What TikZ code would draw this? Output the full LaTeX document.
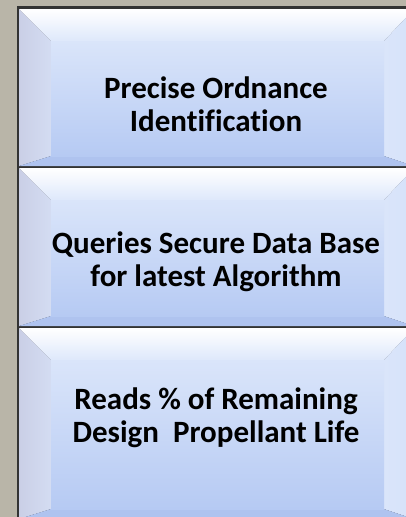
\documentclass[tikz,border=0pt]{standalone}
\usepackage{fontspec}
\setmainfont{Carlito}[Ligatures=CommonOff]
\usepackage{tikz}
\usetikzlibrary{positioning}

\definecolor{bggray}{HTML}{B9B5A8}
\definecolor{facetop}{HTML}{DAE5FA}
\definecolor{facebot}{HTML}{B6CAF3}
\definecolor{bevtop}{HTML}{DEE8FB}
\definecolor{bevleft}{HTML}{CACFE6}
\definecolor{bevright}{HTML}{D6E2FA}
\definecolor{bevbot}{HTML}{AFC3EF}

\begin{document}
\begin{tikzpicture}[
  x=1pt, y=-1pt,
  lbl/.style={font=\bfseries\fontsize{31}{33}\selectfont, align=center, text=black}
]
  \fill[bggray] (0,0) rectangle (406,517);
  \useasboundingbox (0,0) rectangle (406,517);
  % outer frame of the column
  \fill[black!80] (17,6) rectangle (406,520);
  \foreach \ya/\yb/\yt/\name/\txt in {
    9/166/104/ident/{Precise Ordnance\\Identification},
    168/326/262/query/{Queries Secure Data Base\\for latest Algorithm},
    328/519/418/reads/{Reads \% of Remaining\\Design\ \ Propellant Life}} {
    % bevel faces
    \shade[top color=white, bottom color=bevtop]
      (19,\ya) -- (414,\ya) -- (384,\ya+32) -- (51,\ya+32) -- cycle;
    \shade[left color=bevleft, right color=bevleft!40!facetop]
      (19,\ya) -- (51,\ya+32) -- (51,\yb-10) -- (19,\yb) -- cycle;
    \shade[left color=facetop, right color=bevright]
      (414,\ya) -- (384,\ya+32) -- (384,\yb-10) -- (414,\yb) -- cycle;
    \fill[bevbot]
      (19,\yb) -- (51,\yb-10) -- (384,\yb-10) -- (414,\yb) -- cycle;
    \shade[top color=facetop, bottom color=facebot]
      (51,\ya+32) rectangle (384,\yb-10);
    \node[lbl] (\name) at (216,\yt) {\txt};
  }
\end{tikzpicture}
\end{document}
